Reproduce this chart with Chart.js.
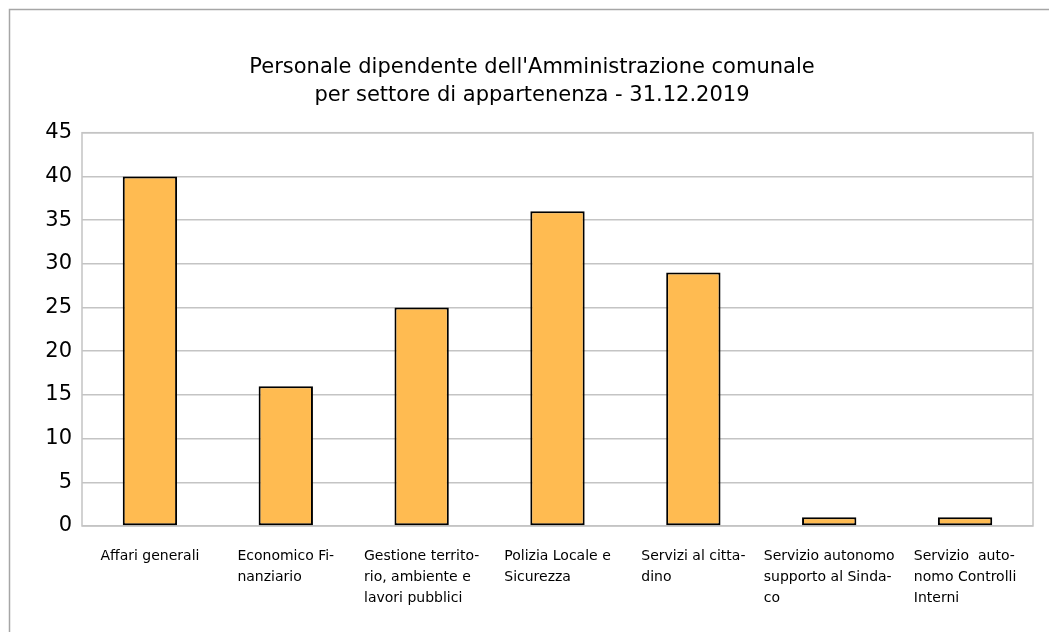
<!DOCTYPE html>
<html>
<head>
<meta charset="utf-8">
<script src="https://cdn.jsdelivr.net/npm/chart.js@4"></script>
<style>
  html, body { margin: 0; padding: 0; background: #ffffff; }
  #wrap { width: 1049px; height: 632px; }
</style>
</head>
<body>
<div id="wrap"><canvas id="chart" width="1049" height="632"></canvas></div>
<script>
// dati
const titleLines = [
  "Personale dipendente dell'Amministrazione comunale",
  "per settore di appartenenza - 31.12.2019",
];
const categories = [
  ["Affari generali"],
  ["Economico Fi-", "nanziario"],
  ["Gestione territo-", "rio, ambiente e", "lavori pubblici"],
  ["Polizia Locale e", "Sicurezza"],
  ["Servizi al citta-", "dino"],
  ["Servizio autonomo", "supporto al Sinda-", "co"],
  ["Servizio  auto-", "nomo Controlli", "Interni"],
];
const personale = [40, 16, 25, 36, 29, 1, 1];
const yMin = 0;
const yMax = 45;
const yStep = 5;

const FONT = "'DejaVu Sans', Verdana, sans-serif";

// cornice esterna (solo lati visibili) e bordo dell'area del grafico
const framePlugin = {
  id: "frame",
  beforeDraw(chart) {
    const ctx = chart.ctx;
    ctx.save();
    ctx.fillStyle = "#ffffff";
    ctx.fillRect(0, 0, chart.width, chart.height);
    ctx.strokeStyle = "#a6a6a6";
    ctx.lineWidth = 1.5;
    ctx.beginPath();
    ctx.moveTo(9.5, chart.height);
    ctx.lineTo(9.5, 9.5);
    ctx.lineTo(chart.width, 9.5);
    ctx.stroke();
    ctx.restore();
  },
  beforeDatasetsDraw(chart) {
    const a = chart.chartArea;
    const ctx = chart.ctx;
    ctx.save();
    ctx.strokeStyle = "#c4c4c4";
    ctx.lineWidth = 1.5;
    ctx.strokeRect(a.left, a.top, a.right - a.left, a.bottom - a.top);
    ctx.restore();
  },
};

// etichette delle categorie: righe allineate a sinistra, blocco centrato
const categoryLabelsPlugin = {
  id: "categoryLabels",
  afterDraw(chart) {
    const ctx = chart.ctx;
    const xScale = chart.scales.x;
    const top = chart.chartArea.bottom;
    ctx.save();
    ctx.font = "14px " + FONT;
    ctx.fillStyle = "#000000";
    ctx.textAlign = "left";
    ctx.textBaseline = "middle";
    categories.forEach((lines, i) => {
      const maxW = Math.max(...lines.map((l) => ctx.measureText(l).width));
      const x = xScale.getPixelForValue(i) - maxW / 2;
      lines.forEach((line, k) => {
        ctx.fillText(line, x, top + 30 + k * 21);
      });
    });
    ctx.restore();
  },
};

const ctx = document.getElementById("chart").getContext("2d");
new Chart(ctx, {
  type: "bar",
  data: {
    labels: categories.map((c) => c.join(" ")),
    datasets: [
      {
        data: personale,
        backgroundColor: "#ffbb51",
        borderColor: "#000000",
        borderWidth: 2,
        borderSkipped: false,
        barPercentage: 0.4,
        categoryPercentage: 1.0,
      },
    ],
  },
  options: {
    responsive: false,
    animation: false,
    layout: {
      padding: { left: 31, right: 16, top: 0, bottom: 0 },
    },
    plugins: {
      legend: { display: false },
      tooltip: { enabled: false },
      title: {
        display: true,
        text: titleLines,
        color: "#000000",
        font: { family: FONT, size: 21, weight: "normal", lineHeight: 1.35 },
        padding: { top: 53, bottom: 23 },
      },
    },
    scales: {
      x: {
        grid: { display: false },
        border: { display: false },
        ticks: { display: false },
        afterFit(scale) {
          scale.height = 106;
        },
      },
      y: {
        min: yMin,
        max: yMax,
        grid: { color: "#c4c4c4", lineWidth: 1.5, drawTicks: false },
        border: { display: false },
        ticks: {
          stepSize: yStep,
          padding: 10,
          color: "#000000",
          font: { family: FONT, size: 21 },
        },
        afterFit(scale) {
          scale.width = 51;
        },
      },
    },
  },
  plugins: [framePlugin, categoryLabelsPlugin],
});
</script>
</body>
</html>
